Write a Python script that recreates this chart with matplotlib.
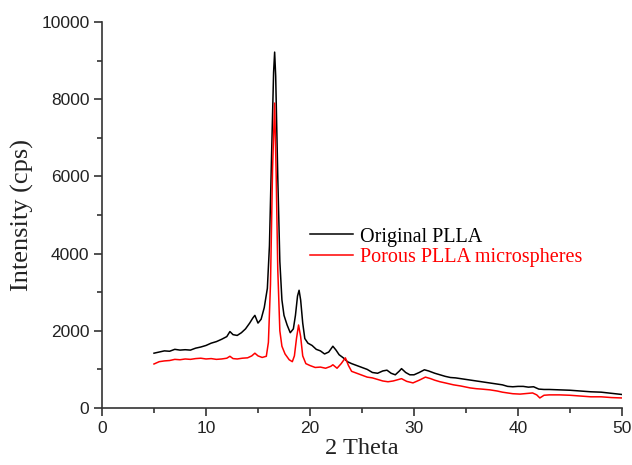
import matplotlib
matplotlib.use("Agg")
import matplotlib.pyplot as plt
from matplotlib.ticker import MultipleLocator

# Original PLLA (black)
orig_x = [5.0, 5.5, 6.0, 6.5, 7.0, 7.5, 8.0, 8.5, 9.0, 9.5, 10.0, 10.5, 11.0, 11.5, 12.0, 12.3, 12.6,
          13.0, 13.4, 13.8, 14.2, 14.5, 14.7, 15.0, 15.3, 15.6, 15.9, 16.1, 16.3, 16.5, 16.6, 16.7,
          16.9, 17.1, 17.3, 17.5, 17.8, 18.1, 18.4, 18.6, 18.8, 18.95, 19.1, 19.3, 19.5, 19.8, 20.2,
          20.6, 21.0, 21.4, 21.8, 22.2, 22.5, 22.8, 23.2, 23.6, 24.0, 24.5, 25.0, 25.5, 26.0, 26.5,
          27.0, 27.4, 27.8, 28.2, 28.6, 28.8, 29.2, 29.6, 30.0, 30.5, 31.0, 31.4, 32.0, 32.5, 33.0,
          33.5, 34.0, 34.5, 35.0, 35.5, 36.0, 36.5, 37.0, 37.5, 38.0, 38.5, 39.0, 39.5, 40.0, 40.5,
          41.0, 41.5, 42.0, 42.5, 43.0, 44.0, 45.0, 46.0, 47.0, 48.0, 49.0, 50.0]
orig_y = [1420, 1450, 1480, 1470, 1520, 1500, 1510, 1500, 1550, 1580, 1620, 1680, 1720, 1780, 1850, 1980, 1900,
          1880, 1950, 2050, 2200, 2330, 2400, 2200, 2300, 2600, 3100, 4200, 6500, 8700, 9220, 8600,
          6000, 3800, 2800, 2400, 2150, 1950, 2050, 2400, 2900, 3050, 2800, 2200, 1800, 1680, 1620,
          1520, 1480, 1400, 1450, 1600, 1500, 1380, 1300, 1200, 1150, 1100, 1050, 1000, 920, 900,
          960, 980, 900, 860, 960, 1020, 920, 860, 860, 920, 990, 960, 900, 860, 820,
          790, 780, 760, 740, 720, 700, 680, 660, 640, 620, 600, 560, 550, 560, 560,
          540, 550, 490, 480, 480, 470, 460, 440, 420, 410, 380, 350]

# Porous PLLA microspheres (red)
por_x = [5.0, 5.5, 6.0, 6.5, 7.0, 7.5, 8.0, 8.5, 9.0, 9.5, 10.0, 10.5, 11.0, 11.5, 12.0, 12.3, 12.6,
         13.0, 13.5, 14.0, 14.4, 14.7, 15.0, 15.4, 15.8, 16.0, 16.2, 16.4, 16.6, 16.75, 16.9, 17.1,
         17.3, 17.6, 18.0, 18.3, 18.5, 18.7, 18.9, 19.1, 19.3, 19.6, 20.0, 20.5, 21.0, 21.5, 22.0,
         22.2, 22.6, 23.0, 23.4, 23.7, 24.0, 24.5, 25.0, 25.5, 26.0, 26.5, 27.0, 27.5, 28.0, 28.8,
         29.3, 29.9, 30.5, 31.1, 31.6, 32.0, 32.5, 33.0, 33.8, 34.5, 35.4, 36.0, 36.5, 37.3, 38.0,
         38.5, 39.0, 39.5, 40.2, 41.0, 41.4, 41.8, 42.1, 42.5, 43.0, 44.0, 45.0, 46.0, 47.0, 48.0,
         49.0, 50.0]
por_y = [1140, 1200, 1220, 1230, 1260, 1250, 1270, 1260, 1280, 1290, 1270, 1280, 1260, 1270, 1290, 1340, 1280,
         1270, 1290, 1300, 1350, 1420, 1350, 1310, 1340, 1700, 3200, 6200, 7900, 6000, 3600, 2000,
         1600, 1400, 1250, 1200, 1350, 1800, 2150, 1850, 1350, 1150, 1100, 1050, 1060, 1030, 1080,
         1120, 1030, 1150, 1300, 1100, 950, 900, 850, 800, 780, 740, 700, 680, 700, 760,
         690, 650, 720, 800, 760, 720, 680, 650, 600, 570, 520, 500, 490, 470, 440,
         410, 390, 370, 360, 380, 390, 340, 260, 330, 340, 340, 330, 310, 290, 290,
         270, 260]

labels = ["Original PLLA", "Porous PLLA microspheres"]
x_label = "2 Theta"
y_label = "Intensity (cps)"

fig = plt.figure(figsize=(6.32, 4.65), dpi=100)
ax = fig.add_axes([102/632, 1-408/465, 520/632, 386/465])

ax.plot(orig_x, orig_y, color="black", lw=1.1, label=labels[0])
ax.plot(por_x, por_y, color="#ff0000", lw=1.1, label=labels[1])

ax.set_xlim(0, 50)
ax.set_ylim(0, 10000)
ax.xaxis.set_major_locator(MultipleLocator(10))
ax.xaxis.set_minor_locator(MultipleLocator(5))
ax.yaxis.set_major_locator(MultipleLocator(2000))
ax.yaxis.set_minor_locator(MultipleLocator(1000))

for s in ["top", "right"]:
    ax.spines[s].set_visible(False)
for s in ["left", "bottom"]:
    ax.spines[s].set_linewidth(1.2)
    ax.spines[s].set_color("#333333")

ax.tick_params(which="major", direction="out", length=6, width=1.2, color="#333333",
               labelsize=12.5, pad=3, labelcolor="#222222")
ax.tick_params(which="minor", direction="out", length=3.5, width=1.2, color="#333333")
for lab in ax.get_xticklabels() + ax.get_yticklabels():
    lab.set_fontfamily("Liberation Sans")

ax.set_xlabel(x_label, fontfamily="Liberation Serif", fontsize=17.5, labelpad=2, color="#222222")
ax.set_ylabel(y_label, fontfamily="Liberation Serif", fontsize=19, labelpad=5, color="#222222")

leg = ax.legend(loc="center left", bbox_to_anchor=(0.4, 0.417), frameon=False,
                prop={"family": "Liberation Serif", "size": 14.5},
                handlelength=2.13, handletextpad=0.37, labelspacing=0.05,
                borderpad=0, borderaxespad=0, labelcolor="linecolor")

fig.savefig("out.png", dpi=100)
